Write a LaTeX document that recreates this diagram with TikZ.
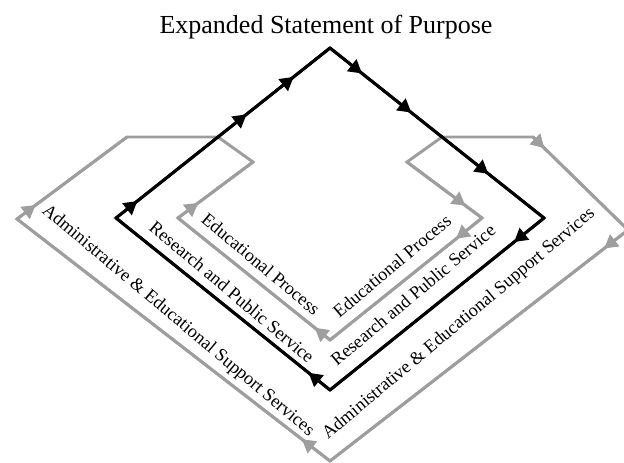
\documentclass[tikz,border=0pt]{standalone}
\usepackage{fontspec}
\setmainfont{Liberation Serif}
\usetikzlibrary{arrows.meta}
\usetikzlibrary{decorations.markings}
\usetikzlibrary{positioning}

\tikzset{
  blk/.style={line width=2.2pt, black, line join=miter},
  gry/.style={line width=2.2pt, black!38, line join=miter},
  flow/.style={postaction={decorate, decoration={markings,
      mark=at position #1 with {\arrow{Triangle[length=10pt,width=11pt]}}}}},
  lbl/.style={font=\fontsize{13.7}{16}\selectfont, inner sep=0pt},
}

\begin{document}
\begin{tikzpicture}[x=0.75pt, y=-0.75pt]
   \useasboundingbox (0,0) rectangle (624,463);
   \node (title) at (326,27) {\fontsize{19.5}{22}\selectfont Expanded Statement of Purpose};

   \coordinate (top) at (330,48);
   \coordinate (rl) at (116,218);
   \coordinate (rr) at (544,218);
   \coordinate (rb) at (330,390);
   \coordinate (bl) at (218,137);
   \coordinate (br) at (442,137);
   \coordinate (etl) at (253,162);
   \coordinate (el) at (178,218);
   \coordinate (eb) at (330,340);
   \coordinate (er) at (482,218);
   \coordinate (etr) at (407,162);
   \coordinate (atl) at (127,137);
   \coordinate (al) at (17,219);
   \coordinate (ab) at (330,461);
   \coordinate (ar) at (628,230);
   \coordinate (atr) at (533,137);

   \draw[gry] (bl) -- (etl) -- (el) -- (eb) -- (er) -- (etr) -- (br);
   \draw[gry] (bl) -- (atl) -- (al) -- (ab) -- (ar) -- (atr) -- (br);
   \draw[blk] (top) -- (rr) -- (rb) -- (rl) -- cycle;

   \draw[gry, flow=.27] (el) -- (etl);
   \draw[gry, flow=.78] (etr) -- (er);
   \draw[gry, flow=.17] (er) -- (eb);
   \draw[gry, flow=.1] (eb) -- (el);
   \draw[gry, flow=.17] (al) -- (atl);
   \draw[gry, flow=.12] (atr) -- (ar);
   \draw[gry, flow=.08] (ar) -- (ab);
   \draw[gry, flow=.09] (ab) -- (al);

   \draw[blk, flow=.1, flow=.61, flow=.83] (rl) -- (top);
   \draw[blk, flow=.15, flow=.38, flow=.74] (top) -- (rr);
   \draw[blk, flow=.14] (rr) -- (rb);
   \draw[blk, flow=.1] (rb) -- (rl);

   \node[lbl, rotate=-40] (edl) at (261,264) {Educational Process};
   \node[lbl, rotate=-40] (rsl) at (232,292) {Research and Public Service};
   \node[lbl, rotate=-40] (adl) at (178,321) {Administrative \& Educational Support Services};
   \node[lbl, rotate=40] (edr) at (392,266) {Educational Process};
   \node[lbl, rotate=40] (rsr) at (413,295) {Research and Public Service};
   \node[lbl, rotate=40] (adr) at (459,324) {Administrative \& Educational Support Services};
\end{tikzpicture}
\end{document}
